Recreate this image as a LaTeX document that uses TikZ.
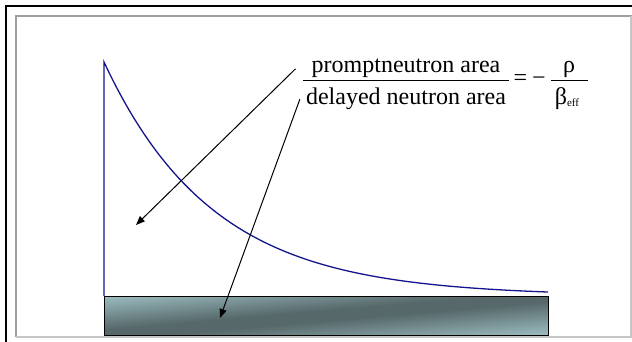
\documentclass[tikz,border=0pt]{standalone}
\usepackage{fontspec}
\setmainfont{Liberation Serif}
\usetikzlibrary{arrows.meta}
\definecolor{curveblue}{RGB}{20,20,140}
\definecolor{barlight}{RGB}{184,222,226}
\definecolor{bardark}{RGB}{86,104,106}
\pgfdeclareverticalshading{barshade}{100bp}{color(0bp)=(barlight); color(45bp)=(barlight);
    color(49.5bp)=(bardark); color(50.5bp)=(bardark); color(55bp)=(barlight); color(100bp)=(barlight)}

\begin{document}
\begin{tikzpicture}[x=1pt, y=-1pt, >={Triangle[length=9pt,width=7pt]},
    txt/.style={inner sep=0pt, font=\fontsize{24}{28}\selectfont, anchor=base}]
    \useasboundingbox (0,0) rectangle (632,342);

    % Frame
    \draw[line width=2pt] (6,342) -- (6,6) -- (632,6);
    \draw[line width=1.5pt, gray!75] (16,337) -- (16,16) -- (632,16);
    \draw[line width=2pt, gray!45] (16,336.5) -- (631,336.5) -- (631,16);

    % Bar
    \begin{scope}
        \clip (104,296) rectangle (548,335);
        \shade[shading=barshade, shading angle=5] (66,55.5) rectangle (586,575.5);
    \end{scope}
    \draw[line width=0.8pt] (104,296) rectangle (548,335);

    % Decay curve
    \draw[curveblue, line width=1.3pt] (104,296) -- (104,62)
        -- plot[domain=0:444, samples=90, smooth] ({104+\x}, {296-234*exp(-0.00917*\x)});

    % Ratio
    \node[txt, inner xsep=16pt] (num) at (406,73) {promptneutron area};
    \node[txt, inner xsep=6pt] (den) at (406,105) {delayed neutron area};
    \draw[line width=0.8pt] (303,80) -- (509,80);
    \node[txt] (eq) at (520.5,86) {=};
    \node[txt] (minus) at (539,86) {−};
    \draw[line width=0.8pt] (551,80) -- (588,80);
    \node[txt] (rho) at (569,73) {ρ};
    \node[txt] (beta) at (567,105) {β\raisebox{-2pt}{\fontsize{11}{11}\selectfont eff}};

    % Arrows
    \coordinate (promptTip) at (136,225);
    \coordinate (delayedTip) at (220,318);
    \draw[->, line width=1pt] (num.west) -- (promptTip);
    \draw[->, line width=1pt] (den.west) -- (delayedTip);
\end{tikzpicture}
\end{document}
